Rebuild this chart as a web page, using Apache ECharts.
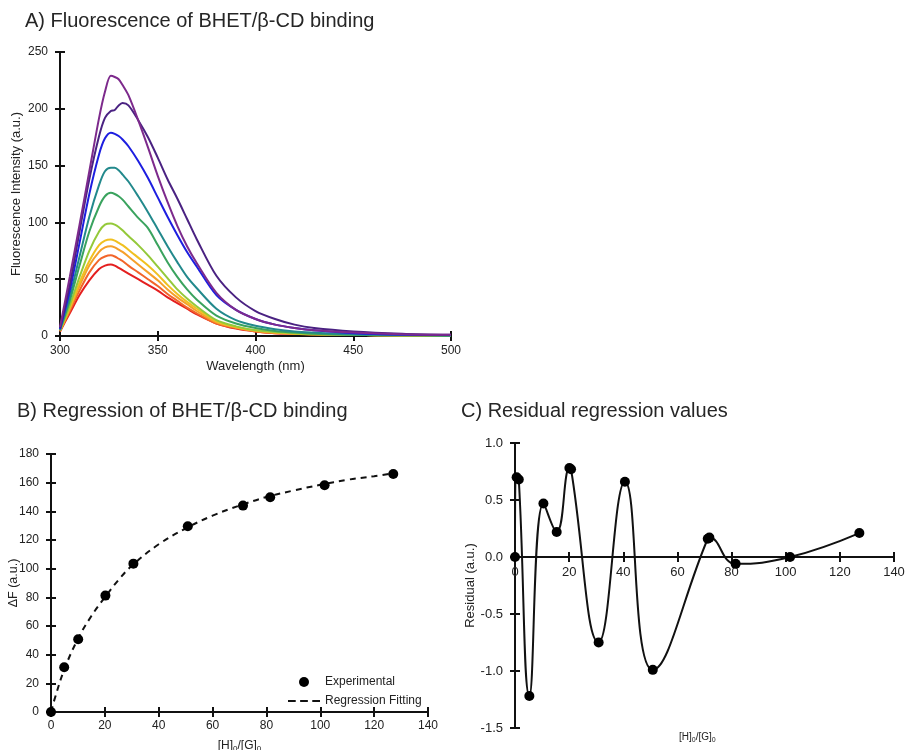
<!DOCTYPE html>
<html>
<head>
<meta charset="utf-8">
<script src="https://cdn.jsdelivr.net/npm/echarts@6/dist/echarts.min.js"></script>
<style>
html,body{margin:0;padding:0;background:#fff;}
#chart{width:907px;height:750px;}
</style>
</head>
<body>
<div id="chart"></div>
<script>
// ---------- Panel A: fluorescence spectra ----------
const wavelengths = [300,305,310,315,320,323,326,328,330,332,335,340,345,350,355,360,365,370,380,390,400,410,420,430,450,475,500];
const spectrum1 = [8,52,98,145,192,215,229,228,226,221,212,190,166,141,118,97,79,64,38,23,15,10,7,5,3,1.5,1];
const spectrum2 = [7,45,92,138,176,192,198,199,203,205,203,190,175,157,138,121,103,85,53,34,22,15,10,7,4,2,1];
const spectrum3 = [6,40,82,125,160,174,179,178,176,173,167,154,139,122,105,89,74,61,36,23,15,10,7,5,2.5,1.2,0.8];
const spectrum4 = [6,35,70,105,133,145,148,148,146,142,136,123,109,94,79,65,52,42,24,14,9,6,4,3,1.5,1,0.5];
const spectrum5 = [5,31,62,92,114,123,126,125,123,120,114,104,95,80,65,52,41,32,18,11,7,4.5,3,2,1,0.6,0.3];
const spectrum6 = [5,27,52,75,92,98,99,98,96,93,88,80,71,61,51,41,33,26,14,8.5,5,3.5,2.5,1.5,1,0.5,0.3];
const spectrum7 = [5,25,47,66,80,84,85,84,82,80,76,69,62,54,45,37,30,24,13,8,5,3,2,1.5,1,0.5,0.3];
const spectrum8 = [5,24,44,62,74,78,79,78,76,74,70,63,56,49,41,34,28,22,12,7.5,4.5,3,2,1.5,1,0.5,0.3];
const spectrum9 = [4,22,40,56,67,70,71,70,68,66,62,56,50,44,37,31,25,20,11,7,4,2.5,2,1.5,1,0.5,0.3];
const spectrum10 = [4,20,36,49,59,62,63,62,60,58,55,50,45,40,34,29,24,19,11,6.5,4,2.5,2,1.5,1,0.5,0.3];
const spectra = [spectrum1,spectrum2,spectrum3,spectrum4,spectrum5,spectrum6,spectrum7,spectrum8,spectrum9,spectrum10];
const spectrumColors = ['#7d2a8c','#4a2282','#1d1ee0','#22898c','#3aa35e','#94c93a','#f0c020','#f5a02a','#f2652a','#e41f1f'];

// ---------- Panel B: regression ----------
const ratioExp = [0,4.9,10.1,20.2,30.6,50.8,71.3,81.4,101.6,127.1];
const deltaFExp = [0,31.2,50.7,81.2,103.5,129.6,144,149.8,158.2,166.1];
const ratioFit = [0,1.5,5,10,15,20,25,30,40,50,60,70,80,90,100,110,120,127];
const deltaFFit = [0,10,30,51,67,80,92,102,117,128,137,144,150,154.5,158.5,162,164.5,166.5];

// ---------- Panel C: residuals ----------
const ratioRes = [0,0.6,1.4,5.3,10.5,15.4,20.1,20.7,30.9,40.6,50.9,71.2,71.8,81.5,101.6,127.2];
const residual = [0,0.70,0.68,-1.22,0.47,0.22,0.78,0.77,-0.75,0.66,-0.99,0.16,0.17,-0.06,0.0,0.21];

const FONT = '"Liberation Sans", Arial, sans-serif';
const chart = echarts.init(document.getElementById('chart'), null, {renderer:'canvas'});

function axisBase(extra){
  const o = {
    type:'value',
    splitLine:{show:false},
    nameMoveOverlap:false,
    axisLine:{show:true, onZero:false, lineStyle:{color:'#111', width:2}},
    axisTick:{show:true, inside:false, length:5, lineStyle:{color:'#111', width:2}},
    axisLabel:{color:'#222', fontSize:12, fontFamily:FONT, margin:10}
  };
  return Object.assign(o, extra);
}
function tickOnly(extra){
  return Object.assign({
    type:'value',
    splitLine:{show:false},
    axisLine:{show:false, onZero:false},
    axisTick:{show:true, inside:true, length:5, lineStyle:{color:'#111', width:2}},
    axisLabel:{show:false}
  }, extra);
}
function hiddenAxis(extra){
  return Object.assign({
    type:'value', show:false, splitLine:{show:false},
    axisLine:{show:false, onZero:false}, axisTick:{show:false}, axisLabel:{show:false}
  }, extra);
}
const subRich = {sub:{fontSize:8, fontFamily:FONT, color:'#222', padding:[7,0,0,0]}};

const series = [];
spectra.forEach((arr,i)=>{
  series.push({
    type:'line', xAxisIndex:0, yAxisIndex:0, smooth:0.3, showSymbol:false, symbol:'none',
    data: wavelengths.map((w,k)=>[w,arr[k]]),
    lineStyle:{color:spectrumColors[i], width:2}, z:20-i
  });
});
series.push({
  name:'Regression Fitting', type:'line', xAxisIndex:2, yAxisIndex:2, smooth:0.4, symbol:'none', showSymbol:false,
  data: ratioFit.map((x,k)=>[x,deltaFFit[k]]),
  itemStyle:{color:'#111'},
  lineStyle:{color:'#111', width:2, type:[6,5]}, z:5
});
series.push({
  name:'Experimental', type:'scatter', xAxisIndex:2, yAxisIndex:2, symbol:'circle', symbolSize:10,
  data: ratioExp.map((x,k)=>[x,deltaFExp[k]]),
  itemStyle:{color:'#000', opacity:1}, z:10
});
series.push({
  type:'line', xAxisIndex:4, yAxisIndex:4, smooth:0.45, symbol:'circle', symbolSize:10, showSymbol:true,
  data: ratioRes.map((x,k)=>[x,residual[k]]),
  itemStyle:{color:'#000', opacity:1},
  lineStyle:{color:'#111', width:2}, z:10
});

const titleStyle = {fontSize:20, fontWeight:'normal', color:'#262626', fontFamily:FONT};
const option = {
  backgroundColor:'#fff',
  animation:false,
  textStyle:{fontFamily:FONT},
  title:[
    {text:'A) Fluorescence of BHET/β-CD binding', left:20, top:6, textStyle:titleStyle},
    {text:'B) Regression of BHET/β-CD binding', left:12, top:396, textStyle:titleStyle},
    {text:'C) Residual regression values', left:456, top:396, textStyle:titleStyle}
  ],
  legend:{
    data:[
      {name:'Experimental', icon:'circle', itemStyle:{color:'#000', opacity:1}},
      {name:'Regression Fitting', icon:'path://M0,0h7v2h-7z M11,0h7v2h-7z M22,0h7v2h-7z', itemStyle:{color:'#111'}}
    ],
    orient:'vertical', left:283, top:671, itemWidth:32, itemHeight:10, itemGap:7,
    textStyle:{fontSize:12, color:'#222', fontFamily:FONT}
  },
  grid:[
    {left:60, top:52, width:391, height:284, containLabel:false, outerBoundsMode:'none'},
    {left:51, top:454, width:377, height:258, containLabel:false, outerBoundsMode:'none'},
    {left:515, top:443, width:379, height:285, containLabel:false, outerBoundsMode:'none'},
    {left:515, top:443, width:379, height:114, containLabel:false, outerBoundsMode:'none'}
  ],
  xAxis:[
    axisBase({gridIndex:0, position:'bottom', min:300, max:500, interval:50, axisLabel:{color:'#222', fontSize:12, fontFamily:FONT, margin:9}, name:'Wavelength (nm)', nameLocation:'middle', nameGap:24, nameTextStyle:{fontSize:13, color:'#222', fontFamily:FONT}}),
    tickOnly({gridIndex:0, position:'bottom', min:300, max:500, interval:50}),
    axisBase({gridIndex:1, position:'bottom', min:0, max:140, interval:20, axisLabel:{color:'#222', fontSize:12, fontFamily:FONT, margin:8}, name:'[H]{sub|0}/[G]{sub|0}', nameLocation:'middle', nameGap:26, nameTextStyle:{fontSize:12, color:'#222', fontFamily:FONT, rich:subRich}}),
    tickOnly({gridIndex:1, position:'bottom', min:0, max:140, interval:20}),
    hiddenAxis({gridIndex:2, position:'bottom', min:0, max:140, interval:20}),
    axisBase({gridIndex:3, position:'bottom', min:0, max:140, interval:20, axisLabel:{color:'#222', fontSize:13, fontFamily:FONT, margin:9}}),
    tickOnly({gridIndex:3, position:'bottom', min:0, max:140, interval:20})
  ],
  yAxis:[
    axisBase({gridIndex:0, position:'left', min:0, max:250, interval:50, axisLabel:{color:'#222', fontSize:12, fontFamily:FONT, margin:12}, name:'Fluorescence Intensity (a.u.)', nameLocation:'middle', nameGap:37, nameTextStyle:{fontSize:13, color:'#222', fontFamily:FONT}}),
    tickOnly({gridIndex:0, position:'left', min:0, max:250, interval:50}),
    axisBase({gridIndex:1, position:'left', min:0, max:180, interval:20, axisLabel:{color:'#222', fontSize:12, fontFamily:FONT, margin:12}, name:'ΔF (a.u.)', nameLocation:'middle', nameGap:31, nameTextStyle:{fontSize:12.5, color:'#222', fontFamily:FONT}}),
    tickOnly({gridIndex:1, position:'left', min:0, max:180, interval:20}),
    axisBase({gridIndex:2, position:'left', min:-1.5, max:1.0, interval:0.5, name:'Residual (a.u.)', nameLocation:'middle', nameGap:38, nameTextStyle:{fontSize:13, color:'#222', fontFamily:FONT}, axisLabel:{color:'#222', fontSize:13, fontFamily:FONT, margin:12, formatter:(v)=>v.toFixed(1)}}),
    tickOnly({gridIndex:2, position:'left', min:-1.5, max:1.0, interval:0.5}),
    hiddenAxis({gridIndex:3, position:'left', min:0, max:1})
  ],
  graphic:[
    {type:'text', left:679, top:732, style:{text:'[H]{sub|0}/[G]{sub|0}', fontSize:10, fill:'#222', fontFamily:FONT, rich:{sub:{fontSize:7, fontFamily:FONT, fill:'#222', padding:[6,0,0,0]}}}}
  ],
  series: series
};
chart.setOption(option);
</script>
</body>
</html>
